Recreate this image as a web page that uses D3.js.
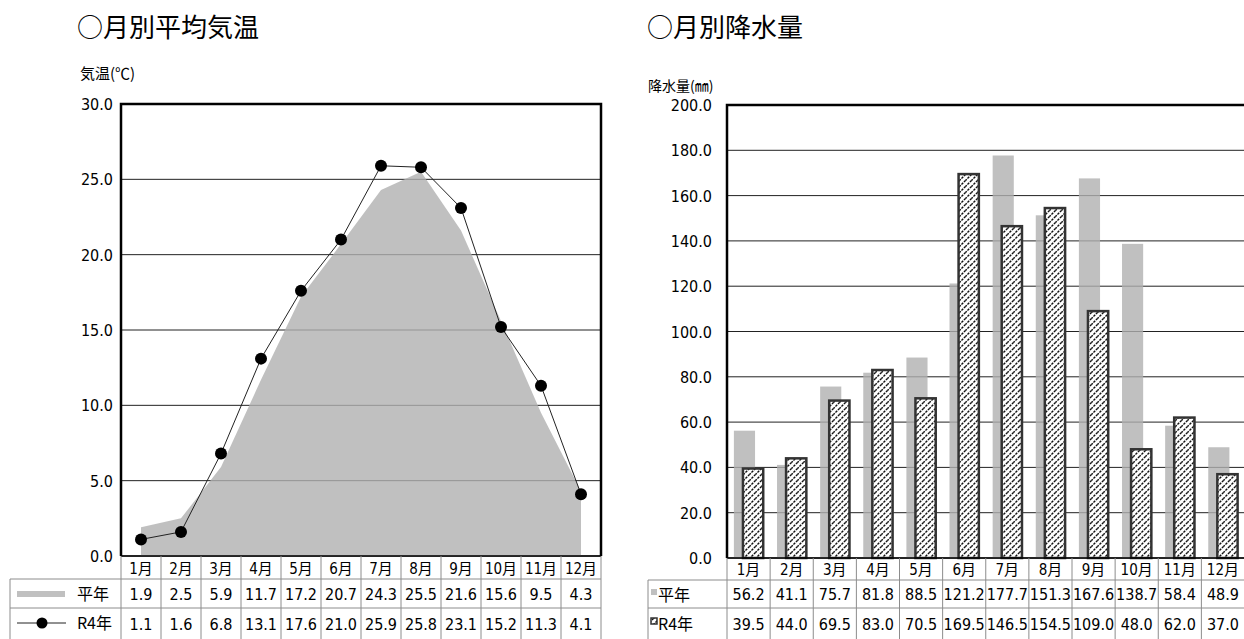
<!DOCTYPE html>
<html>
<head>
<meta charset="utf-8">
<script src="https://cdn.jsdelivr.net/npm/d3@7"></script>
<style>
  body { margin: 0; background: #fff; }
  text { font-family: "Noto Sans CJK JP", sans-serif; fill: #000; }
  .num { font-family: "DejaVu Sans", "Noto Sans CJK JP", sans-serif; font-stretch: condensed; }
</style>
</head>
<body>
<div id="main"></div>
<script>
const months = ["1月","2月","3月","4月","5月","6月","7月","8月","9月","10月","11月","12月"];

// 気温
const tempNormal = [1.9, 2.5, 5.9, 11.7, 17.2, 20.7, 24.3, 25.5, 21.6, 15.6, 9.5, 4.3];
const tempR4 = [1.1, 1.6, 6.8, 13.1, 17.6, 21.0, 25.9, 25.8, 23.1, 15.2, 11.3, 4.1];
const tempTicks = [0, 5, 10, 15, 20, 25, 30];

// 降水量
const rainNormal = [56.2, 41.1, 75.7, 81.8, 88.5, 121.2, 177.7, 151.3, 167.6, 138.7, 58.4, 48.9];
const rainR4 = [39.5, 44.0, 69.5, 83.0, 70.5, 169.5, 146.5, 154.5, 109.0, 48.0, 62.0, 37.0];
const rainTicks = [0, 20, 40, 60, 80, 100, 120, 140, 160, 180, 200];

const svg = d3.select("#main").append("svg")
  .attr("width", 1244)
  .attr("height", 639);

// hatch pattern
const pat = svg.append("defs").append("pattern")
  .attr("id", "hatch")
  .attr("patternUnits", "userSpaceOnUse")
  .attr("width", 6)
  .attr("height", 6);
pat.append("rect").attr("width", 6).attr("height", 6).attr("fill", "#fff");
pat.append("path")
  .attr("d", "M-1,7 L7,-1 M-1,1 L1,-1 M5,7 L7,5")
  .attr("stroke", "#111")
  .attr("stroke-width", 1.4)
  .attr("stroke-dasharray", "2.5,1");

const fmt = d3.format(".1f");
const tableLine = "#8c8c8c";

// common table drawing
const drawTable = (g, x, rows, labelLeft, valuesList) => {
  const x0 = x.range()[0], x1 = x.range()[1];
  g.append("line").attr("x1", labelLeft).attr("x2", x1).attr("y1", rows[1]).attr("y2", rows[1])
    .attr("stroke", tableLine);
  g.append("line").attr("x1", labelLeft).attr("x2", x1).attr("y1", rows[2]).attr("y2", rows[2])
    .attr("stroke", tableLine);
  g.append("line").attr("x1", labelLeft).attr("x2", labelLeft).attr("y1", rows[1]).attr("y2", rows[3])
    .attr("stroke", tableLine);
  months.forEach((m, i) => {
    const bx = x(m);
    g.append("line").attr("x1", bx).attr("x2", bx).attr("y1", rows[0]).attr("y2", rows[3])
      .attr("stroke", tableLine);
    g.append("text")
      .attr("class", "num")
      .attr("x", bx + x.bandwidth() / 2)
      .attr("y", (rows[0] + rows[1]) / 2 + 6)
      .attr("text-anchor", "middle")
      .attr("font-size", 15)
      .text(m);
    valuesList.forEach((vals, r) => {
      g.append("text")
        .attr("class", "num")
        .attr("x", bx + x.bandwidth() / 2)
        .attr("y", (rows[r + 1] + rows[r + 2]) / 2 + 6)
        .attr("text-anchor", "middle")
        .attr("font-size", 16)
        .text(fmt(vals[i]));
    });
  });
  g.append("line").attr("x1", x1).attr("x2", x1).attr("y1", rows[0]).attr("y2", rows[3])
    .attr("stroke", tableLine);
};

// ---------- 左: 月別平均気温 ----------
(function() {
  const g = svg.append("g");
  const x = d3.scaleBand().domain(months).range([121, 601]);
  const y = d3.scaleLinear().domain([0, 30]).range([556, 104]);
  const cx = m => x(m) + x.bandwidth() / 2;

  g.append("text").attr("x", 77).attr("y", 37).attr("font-size", 26).text("○月別平均気温");
  g.append("text").attr("x", 80).attr("y", 79).attr("font-size", 15).text("気温(℃)");

  tempTicks.forEach(t => {
    g.append("line").attr("x1", 121).attr("x2", 601).attr("y1", y(t)).attr("y2", y(t))
      .attr("stroke", "#222").attr("stroke-width", 1);
    g.append("text")
      .attr("class", "num")
      .attr("x", 113).attr("y", y(t) + 6)
      .attr("text-anchor", "end")
      .attr("font-size", 16)
      .text(fmt(t));
  });

  const area = d3.area()
    .x((d, i) => cx(months[i]))
    .y0(y(0))
    .y1(d => y(d));
  g.append("path").datum(tempNormal)
    .attr("d", area)
    .attr("fill", "#b0b0b0")
    .attr("fill-opacity", 0.8);

  const line = d3.line()
    .x((d, i) => cx(months[i]))
    .y(d => y(d));
  g.append("path").datum(tempR4)
    .attr("d", line)
    .attr("fill", "none")
    .attr("stroke", "#222")
    .attr("stroke-width", 1);
  g.selectAll("circle.pt").data(tempR4).enter().append("circle")
    .attr("class", "pt")
    .attr("cx", (d, i) => cx(months[i]))
    .attr("cy", d => y(d))
    .attr("r", 6)
    .attr("fill", "#000");

  // frame
  g.append("path")
    .attr("d", `M121,556 V104 H601 V556`)
    .attr("fill", "none").attr("stroke", "#000").attr("stroke-width", 2.5);
  g.append("line").attr("x1", 121).attr("x2", 601).attr("y1", 556).attr("y2", 556)
    .attr("stroke", "#000").attr("stroke-width", 1.5);

  drawTable(g, x, [556, 579, 608, 639], 10, [tempNormal, tempR4]);

  // legend cells
  g.append("rect").attr("x", 17).attr("y", 591).attr("width", 48).attr("height", 6).attr("fill", "#c0c0c0");
  g.append("text").attr("x", 109).attr("y", 600).attr("text-anchor", "end").attr("font-size", 16).text("平年");
  g.append("line").attr("x1", 17).attr("x2", 66).attr("y1", 623).attr("y2", 623)
    .attr("stroke", "#222");
  g.append("circle").attr("cx", 42).attr("cy", 623).attr("r", 5.5).attr("fill", "#000");
  g.append("text").attr("x", 112).attr("y", 629).attr("text-anchor", "end").attr("font-size", 16).text("R4年");
})();

// ---------- 右: 月別降水量 ----------
(function() {
  const g = svg.append("g");
  const x = d3.scaleBand().domain(months).range([727, 1244.5]);
  const y = d3.scaleLinear().domain([0, 200]).range([558, 105]);
  const bw = x.bandwidth();

  g.append("text").attr("x", 647).attr("y", 37).attr("font-size", 26).text("○月別降水量");
  g.append("text").attr("x", 648).attr("y", 91).attr("font-size", 14).text("降水量(㎜)");

  rainTicks.forEach(t => {
    g.append("line").attr("x1", 727).attr("x2", 1244.5).attr("y1", y(t)).attr("y2", y(t))
      .attr("stroke", "#222").attr("stroke-width", 1);
    g.append("text")
      .attr("class", "num")
      .attr("x", 712).attr("y", y(t) + 6)
      .attr("text-anchor", "end")
      .attr("font-size", 16)
      .text(fmt(t));
  });

  g.selectAll("rect.normal").data(rainNormal).enter().append("rect")
    .attr("class", "normal")
    .attr("x", (d, i) => x(months[i]) + bw * 0.16)
    .attr("width", bw * 0.49)
    .attr("y", d => y(d))
    .attr("height", d => y(0) - y(d))
    .attr("fill", "#b0b0b0")
    .attr("fill-opacity", 0.8);

  g.selectAll("rect.r4").data(rainR4).enter().append("rect")
    .attr("class", "r4")
    .attr("x", (d, i) => x(months[i]) + bw * 0.37)
    .attr("width", bw * 0.47)
    .attr("y", d => y(d))
    .attr("height", d => y(0) - y(d))
    .attr("fill", "url(#hatch)")
    .attr("stroke", "#333")
    .attr("stroke-width", 2.5);

  g.append("path")
    .attr("d", `M727,558 V105 H1244.5`)
    .attr("fill", "none").attr("stroke", "#000").attr("stroke-width", 2.5);
  g.append("line").attr("x1", 727).attr("x2", 1244.5).attr("y1", 558).attr("y2", 558)
    .attr("stroke", "#000").attr("stroke-width", 1.5);

  drawTable(g, x, [558, 580, 608, 639], 648, [rainNormal, rainR4]);

  g.append("rect").attr("x", 651).attr("y", 589).attr("width", 6).attr("height", 6).attr("fill", "#c0c0c0");
  g.append("text").attr("x", 658).attr("y", 601).attr("font-size", 16).text("平年");
  g.append("rect").attr("x", 651).attr("y", 618).attr("width", 6).attr("height", 6)
    .attr("fill", "url(#hatch)").attr("stroke", "#333").attr("stroke-width", 1.5);
  g.append("text").attr("x", 658).attr("y", 630).attr("font-size", 16).text("R4年");
})();
</script>
</body>
</html>
